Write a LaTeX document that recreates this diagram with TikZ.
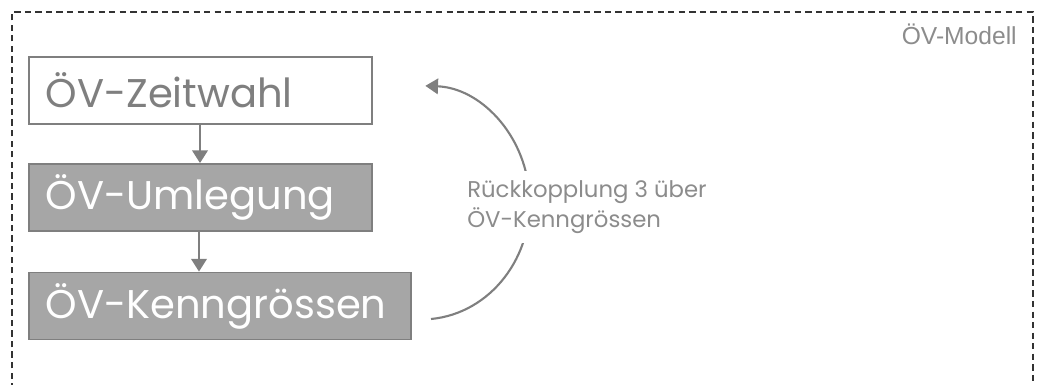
\documentclass[tikz,border=0pt]{standalone}
\usepackage{fontspec}
\setmainfont{Poppins}
\newfontfamily\labelfont{Liberation Sans}
\usepackage{tikz}
\usetikzlibrary{arrows.meta, positioning}
\definecolor{boxgray}{HTML}{A6A6A6}
\definecolor{linegray}{HTML}{7F7F7F}
\definecolor{textgray}{HTML}{8C8C8C}
\definecolor{framegray}{HTML}{333333}

\begin{document}
\begin{tikzpicture}[x=0.025cm, y=-0.025cm, every node/.style={font=\normalfont}]
    % Define styles
    \tikzstyle{stepwhite} = [rectangle, draw=linegray, fill=white, line width=1.3pt, text=linegray, font=\fontsize{28.5}{32}\selectfont, minimum height=1.675cm, inner xsep=0.42cm, align=left, anchor=west]
    \tikzstyle{stepgray} = [stepwhite, fill=boxgray, text=white]
    \tikzstyle{arrow} = [line width=1.5pt, draw=linegray, -{Triangle[width=11pt, length=9pt]}]

    % Page size
    \useasboundingbox (0,0) rectangle (1042,385);

    % Model frame (runs on below the page)
    \draw[framegray, dashed, dash pattern=on 4.5pt off 3pt, line width=0.75pt] (12,400) -- (12,12) -- (1033,12) -- (1033,400);
    \node (modell) [anchor=north east, text=textgray, font=\labelfont\fontsize{17.5}{20}\selectfont, inner sep=0pt] at (1017,24) {ÖV-Modell};

    % Model steps
    \node (zeit) [stepwhite, text width=7.73cm] at (28,90.5) {ÖV-Zeitwahl};
    \node (umleg) [stepgray, text width=7.73cm] at (28,197.5) {ÖV-Umlegung};
    \node (kenn) [stepgray, text width=8.71cm] at (28,306) {ÖV-Kenngrössen};

    % Main flow arrows
    \draw [arrow] (zeit.south -| 200,0) -- (umleg.north -| 200,0);
    \draw [arrow] (umleg.south -| 199,0) -- (kenn.north -| 199,0);

    % Feedback loop
    \coordinate (fbstart) at (431,319);
    \draw [arrow] (fbstart) arc[start angle=-85, end angle=88, x radius=2.7cm, y radius=2.92cm];
    \node (fblabel) [anchor=west, fill=white, align=left, text=textgray, font=\fontsize{16.2}{21.5}\selectfont, inner xsep=0pt, inner ysep=7pt] at (467,207) {Rückkopplung 3 über\\ÖV-Kenngrössen};
\end{tikzpicture}
\end{document}
